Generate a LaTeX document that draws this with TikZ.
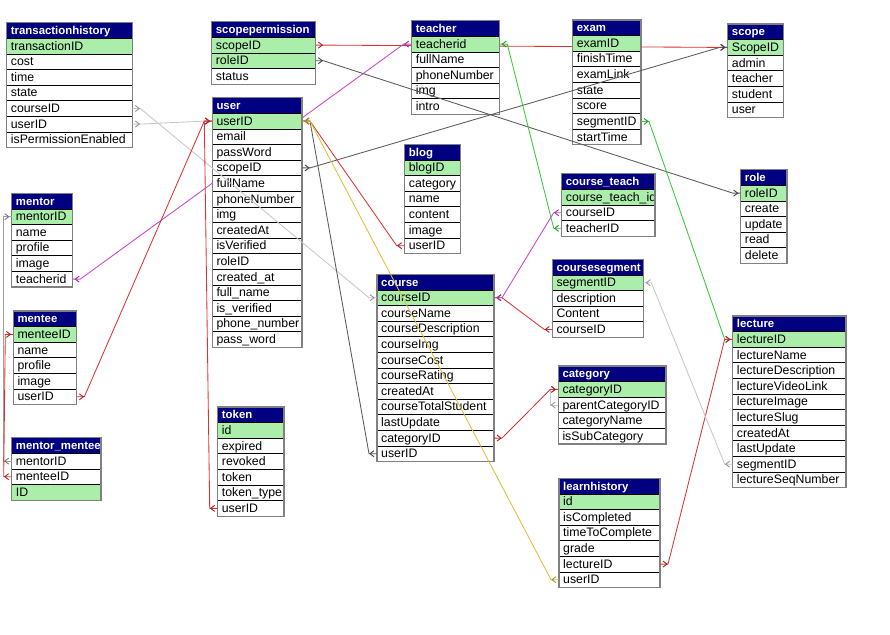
\documentclass[tikz,border=0pt]{standalone}
\usepackage{fontspec}
\setmainfont{Liberation Sans}
\usetikzlibrary{calc}
\definecolor{hdrblue}{HTML}{000080}
\definecolor{pk}{HTML}{AAEEAA}
\definecolor{lnred}{HTML}{DD3333}
\definecolor{lnmag}{HTML}{CC44CC}
\definecolor{lngreen}{HTML}{33CC33}
\definecolor{lnyel}{HTML}{D9C23A}
\definecolor{lnlgray}{HTML}{C8C8C8}
\definecolor{lndgray}{HTML}{5A5A5A}
\definecolor{lnmgray}{HTML}{A0A0A0}
\definecolor{tframe}{HTML}{808080}
\newcommand{\rowfont}{\fontsize{12.3}{14}\selectfont}
\newcommand{\hdrfont}{\bfseries\fontsize{11.4}{13}\selectfont}
\pgfdeclarelayer{back}
\pgfsetlayers{back,main}
\tikzset{
  cellbox/.style={draw=black, line width=0.7pt, minimum height=15.6pt, inner sep=0pt, outer sep=0pt, anchor=north west},
  celltxt/.style={anchor=base west, inner sep=0pt, font=\rowfont, text=black},
  hdrtxt/.style={anchor=base west, inner sep=0pt, font=\hdrfont, text=white},
  tblframe/.style={draw=tframe, line width=1.2pt},
  conn/.style={line width=0.85pt},
  chevs/.style={line width=0.9pt},
}
% name, x, y, width, title, rows, number of rows
\newcommand{\dbtable}[7]{%
  \node[cellbox, fill=hdrblue, minimum width=#4pt] (#1-h) at (#2,#3) {};
  \node[hdrtxt] (#1-ht) at ({#2+4},{#3+11.8}) {#5};
  \foreach \rc/\rt [count=\ri] in {#6} {
    \node[cellbox, fill=\rc, minimum width=#4pt] (#1-\ri) at (#2,{#3+15.6*\ri}) {};
    \node[celltxt] (#1-\ri-t) at ({#2+4},{#3+15.6*\ri+11.8}) {\rt};
  }
  \draw[tblframe] (#2,#3) rectangle ({#2+#4},{#3+15.6*(#7+1)});
}
% chevron: colour, anchor, tip offset, back offset
\newcommand{\chev}[4]{\draw[chevs,#1!75!black] ($(#2)+(#4,-3)$) -- ($(#2)+(#3,0)$) -- ($(#2)+(#4,3)$);}
% from east side to west side
\newcommand{\relEW}[3]{%
  \draw[conn,#1] (#2.east) -- ++(8,0) -- ($(#3.west)+(-8,0)$) -- (#3.west);
  \chev{#1}{#2.east}{7}{3}\chev{#1}{#3.west}{-3}{-7}}
% from west side to east side
\newcommand{\relWE}[3]{%
  \draw[conn,#1] (#2.west) -- ++(-8,0) -- ($(#3.east)+(8,0)$) -- (#3.east);
  \chev{#1}{#2.west}{-7}{-3}\chev{#1}{#3.east}{3}{7}}
% from west side to west side
\newcommand{\relWW}[3]{%
  \draw[conn,#1] (#2.west) -- ++(-8,0) -- ($(#3.west)+(-8,0)$) -- (#3.west);
  \chev{#1}{#2.west}{-7}{-3}\chev{#1}{#3.west}{-3}{-7}}
\begin{document}
\begin{tikzpicture}[x=1pt,y=-1pt]
\useasboundingbox (0,0) rectangle (890,634);

\dbtable{th}{6.7}{22.7}{125.6}{transactionhistory}{pk/transactionID, white/cost, white/time, white/state, white/courseID, white/userID, white/isPermissionEnabled}{7}
\dbtable{sp}{211.7}{21.7}{103.6}{scopepermission}{pk/scopeID, pk/roleID, white/status}{3}
\dbtable{user}{212.3}{97.7}{89.7}{user}{pk/userID, white/email, white/passWord, white/scopeID, white/fullName, white/phoneNumber, white/img, white/createdAt, white/isVerified, white/roleID, white/created\_at, white/full\_name, white/is\_verified, white/phone\_number, white/pass\_word}{15}
\dbtable{teacher}{411.7}{20.7}{87.6}{teacher}{pk/teacherid, white/fullName, white/phoneNumber, white/img, white/intro}{5}
\dbtable{exam}{572.7}{20}{68.3}{exam}{pk/examID, white/finishTime, white/examLink, white/state, white/score, white/segmentID, white/startTime}{7}
\dbtable{scope}{727.7}{24}{56}{scope}{pk/ScopeID, white/admin, white/teacher, white/student, white/user}{5}
\dbtable{role}{740.7}{169.7}{46.3}{role}{pk/roleID, white/create, white/update, white/read, white/delete}{5}
\dbtable{blog}{404.7}{144.3}{55.6}{blog}{pk/blogID, white/category, white/name, white/content, white/image, white/userID}{6}
\dbtable{ct}{561.7}{173.7}{93.3}{course\_teach}{pk/course\_teach\_id, white/courseID, white/teacherID}{3}
\dbtable{cs}{552.3}{259.3}{91}{coursesegment}{pk/segmentID, white/description, white/Content, white/courseID}{4}
\dbtable{course}{377}{274.3}{117}{course}{pk/courseID, white/courseName, white/courseDescription, white/courseImg, white/courseCost, white/courseRating, white/createdAt, white/courseTotalStudent, white/lastUpdate, white/categoryID, white/userID}{11}
\dbtable{cat}{558.3}{366}{107.7}{category}{pk/categoryID, white/parentCategoryID, white/categoryName, white/isSubCategory}{4}
\dbtable{lh}{559}{478.3}{101}{learnhistory}{pk/id, white/isCompleted, white/timeToComplete, white/grade, white/lectureID, white/userID}{6}
\dbtable{lec}{732.7}{316}{113.3}{lecture}{pk/lectureID, white/lectureName, white/lectureDescription, white/lectureVideoLink, white/lectureImage, white/lectureSlug, white/createdAt, white/lastUpdate, white/segmentID, white/lectureSeqNumber}{10}
\dbtable{mentor}{11.7}{193.3}{60.6}{mentor}{pk/mentorID, white/name, white/profile, white/image, white/teacherid}{5}
\dbtable{mentee}{13.3}{311}{63}{mentee}{pk/menteeID, white/name, white/profile, white/image, white/userID}{5}
\dbtable{mm}{11.7}{437.7}{89.3}{mentor\_mentee}{white/mentorID, white/menteeID, pk/ID}{3}
\dbtable{token}{217.7}{407}{66.3}{token}{pk/id, white/expired, white/revoked, white/token, white/token\_type, white/userID}{6}

% white page and the connectors hidden behind the tables
\begin{pgfonlayer}{back}
\fill[white] (0,0) rectangle (890,634);
\relEW{lnred}{sp-1}{scope-1}
\relWE{lnmag}{teacher-1}{mentor-5}
\end{pgfonlayer}

% connectors over the tables
\relEW{lnlgray}{th-5}{course-1}
\relEW{lnlgray}{th-6}{user-1}
\relEW{lnred}{mentee-5}{user-1}
\relWW{lnred}{token-6}{user-1}
\relWW{lnmgray}{mm-1}{mentor-1}
\relWW{lnred}{mm-2}{mentee-1}
\relEW{lndgray}{sp-2}{role-1}
\relEW{lndgray}{user-4}{scope-1}
\relWE{lnred}{blog-6}{user-1}
\relWE{lndgray}{course-11}{user-1}
\relWE{lnyel}{lh-6}{user-1}
\relWE{lnred}{cs-4}{course-1}
\relWE{lnmag}{ct-2}{course-1}
\relWE{lngreen}{ct-3}{teacher-1}
\relEW{lngreen}{exam-6}{lec-1}
\relEW{lnred}{lh-5}{lec-1}
\relWE{lnlgray}{lec-9}{cs-1}
\relWW{lnlgray}{cat-2}{cat-1}
\relEW{lnred}{course-10}{cat-1}
\end{tikzpicture}
\end{document}
